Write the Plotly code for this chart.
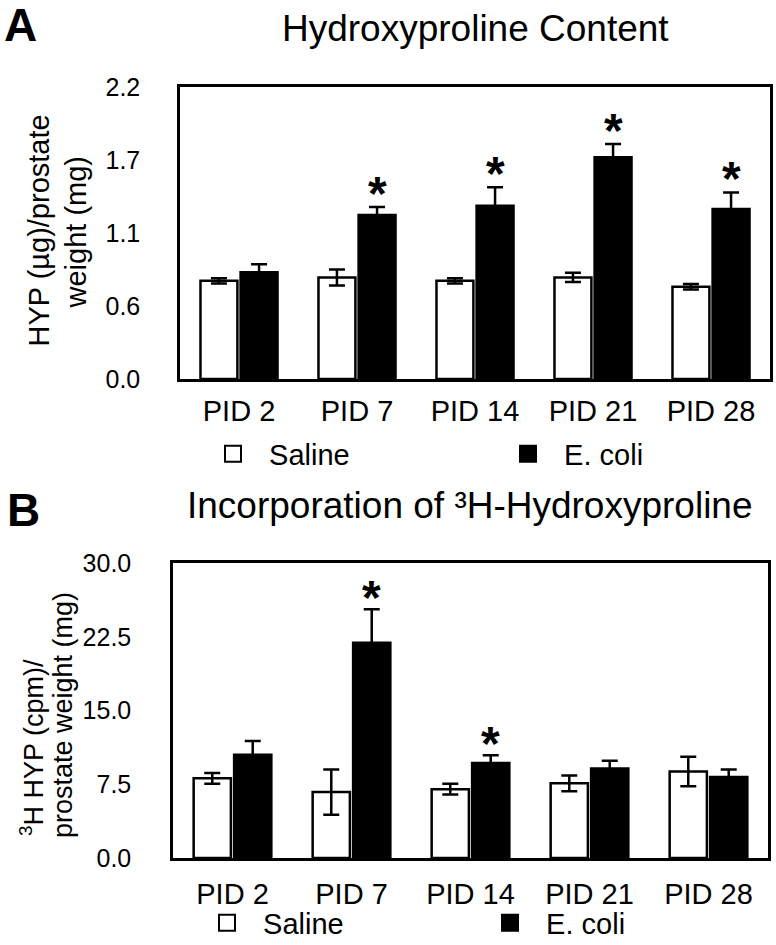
import plotly.graph_objects as go

W, H = 776, 945

categories = ["PID 2", "PID 7", "PID 14", "PID 21", "PID 28"]

# Panel A: Hydroxyproline content
a_saline = [0.74, 0.765, 0.74, 0.765, 0.695]
a_saline_err = [0.02, 0.06, 0.02, 0.035, 0.02]
a_ecoli = [0.805, 1.235, 1.305, 1.67, 1.28]
a_ecoli_err = [0.06, 0.06, 0.14, 0.10, 0.125]
a_sig = [False, True, True, True, True]
a_tickvals = [0, 0.55, 1.1, 1.65, 2.2]
a_ticktext = ["0.0", "0.6", "1.1", "1.7", "2.2"]
a_minor = [0.275, 0.825, 1.375, 1.925]

# Panel B: Incorporation of 3H-hydroxyproline
b_saline = [8.1, 6.7, 7.0, 7.6, 8.8]
b_saline_err = [0.55, 2.3, 0.55, 0.8, 1.5]
b_ecoli = [10.5, 21.9, 9.65, 9.1, 8.25]
b_ecoli_err = [1.4, 3.4, 0.8, 0.8, 0.75]
b_sig = [False, True, True, False, False]
b_tickvals = [0, 7.5, 15, 22.5, 30]
b_ticktext = ["0.0", "7.5", "15.0", "22.5", "30.0"]
b_minor = [3.75, 11.25, 18.75, 26.25]

FONT = "Liberation Sans, Arial, Helvetica, sans-serif"
LW = 2.5

def px(x):
    return x / W

def py(y):
    return 1 - y / H

fig = go.Figure()

def add_panel(xa, ya, legend, sal, sal_err, eco, eco_err):
    fig.add_trace(go.Bar(
        x=categories, y=sal, name="Saline", xaxis=xa, yaxis=ya,
        marker=dict(color="white", line=dict(color="black", width=LW)),
        error_y=dict(type="data", array=sal_err, color="black", thickness=LW, width=8),
        showlegend=False))
    fig.add_trace(go.Bar(
        x=categories, y=eco, name="E. coli", xaxis=xa, yaxis=ya,
        marker=dict(color="black", line=dict(color="black", width=LW)),
        error_y=dict(type="data", array=eco_err, color="black", thickness=LW, width=8),
        showlegend=False))
    # legend entries with larger square symbols
    fig.add_trace(go.Scatter(
        x=[categories[0]], y=[None], mode="markers", name="\u00a0\u00a0Saline",
        xaxis=xa, yaxis=ya, legend=legend,
        marker=dict(symbol="square", size=16, color="white", line=dict(color="black", width=2))))
    fig.add_trace(go.Scatter(
        x=[categories[0]], y=[None], mode="markers", name="\u00a0\u00a0E. coli",
        xaxis=xa, yaxis=ya, legend=legend,
        marker=dict(symbol="square", size=16, color="black", line=dict(color="black", width=2))))

add_panel("x", "y", "legend", a_saline, a_saline_err, a_ecoli, a_ecoli_err)
add_panel("x2", "y2", "legend2", b_saline, b_saline_err, b_ecoli, b_ecoli_err)

annotations = []
for cat, v, e, s in zip(categories, a_ecoli, a_ecoli_err, a_sig):
    if s:
        annotations.append(dict(x=cat, y=v + e, xref="x", yref="y", text="<b>*</b>",
                                showarrow=False, yanchor="middle", xshift=20, yshift=14,
                                font=dict(size=48, family=FONT, color="black")))
for cat, v, e, s in zip(categories, b_ecoli, b_ecoli_err, b_sig):
    if s:
        annotations.append(dict(x=cat, y=v + e, xref="x2", yref="y2", text="<b>*</b>",
                                showarrow=False, yanchor="middle", xshift=20, yshift=12,
                                font=dict(size=48, family=FONT, color="black")))

def label(x, y, text, size, angle=0, bold=False, xanchor="center"):
    return dict(x=px(x), y=py(y), xref="paper", yref="paper",
                text=f"<b>{text}</b>" if bold else text, showarrow=False,
                xanchor=xanchor, yanchor="middle", textangle=angle,
                font=dict(size=size, family=FONT, color="black"))

annotations += [
    label(2, 25, "A", 46, bold=True, xanchor="left"),
    label(5, 510, "B", 46, bold=True, xanchor="left"),
    label(475, 29, "Hydroxyproline Content", 37),
    label(470, 505, "Incorporation of \u00b3H-Hydroxyproline", 37),
    # y-axis titles
    label(38.5, 231, "HYP (\u00b5g)/prostate", 29, angle=-90),
    label(75.5, 232, "weight (mg)", 29, angle=-90),
    label(32, 748, "<sup>3</sup>H HYP (cpm)/", 27, angle=-90),
    label(63, 715, "prostate weight (mg)", 27, angle=-90),
]

def xaxis_cfg(dom, anchor, standoff):
    return dict(domain=dom, anchor=anchor, type="category", showline=True, linewidth=LW,
                linecolor="black", mirror=True, ticks="", showgrid=False,
                tickfont=dict(size=29, family=FONT, color="black"),
                ticklabelstandoff=standoff)

def yaxis_cfg(dom, anchor, rng, tv, tt, labelgap):
    # labelled axis: long invisible ticks push the labels away from the frame
    return dict(domain=dom, anchor=anchor, range=rng, tickvals=tv, ticktext=tt,
                ticks="outside", ticklen=labelgap, tickwidth=1,
                tickcolor="rgba(0,0,0,0)",
                showline=True, linewidth=LW, linecolor="black", mirror=True,
                showgrid=False, zeroline=False,
                tickfont=dict(size=25, family=FONT, color="black"))

def ytick_cfg(over, anchor, rng, tv):
    # visible short major + minor ticks
    return dict(overlaying=over, anchor=anchor, side="left", range=rng, tickvals=tv,
                ticks="outside", ticklen=7, tickwidth=LW, tickcolor="black",
                showticklabels=False, showline=False, showgrid=False, zeroline=False)

fig.update_layout(
    width=W, height=H,
    margin=dict(l=0, r=0, t=0, b=0, autoexpand=False),
    paper_bgcolor="white", plot_bgcolor="white",
    font=dict(family=FONT, color="black"),
    barmode="group", bargap=0.32, bargroupgap=0.08,
    xaxis=xaxis_cfg([px(180), px(770)], "y", 4),
    yaxis=yaxis_cfg([py(379), py(87)], "x", [0, 2.2], a_tickvals, a_ticktext, 32),
    yaxis3=ytick_cfg("y", "x", [0, 2.2], sorted(a_tickvals + a_minor)),
    xaxis2=xaxis_cfg([px(173), px(768)], "y2", 8),
    yaxis2=yaxis_cfg([py(858), py(563)], "x2", [0, 30], b_tickvals, b_ticktext, 34),
    yaxis4=ytick_cfg("y2", "x2", [0, 30], sorted(b_tickvals + b_minor)),
    legend=dict(orientation="h", x=px(213), y=py(454), xanchor="left", yanchor="middle",
                font=dict(size=29, family=FONT, color="black"), entrywidth=250,
                entrywidthmode="pixels", bgcolor="rgba(0,0,0,0)", itemsizing="trace"),
    legend2=dict(orientation="h", x=px(207), y=py(923), xanchor="left", yanchor="middle",
                 font=dict(size=29, family=FONT, color="black"), entrywidth=238,
                 entrywidthmode="pixels", bgcolor="rgba(0,0,0,0)", itemsizing="trace"),
    annotations=annotations,
)

fig.write_html("out.html", config={"displayModeBar": False},
               post_script="document.body.style.margin='0';")
